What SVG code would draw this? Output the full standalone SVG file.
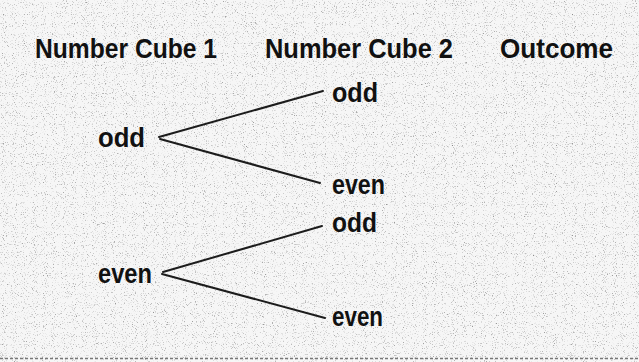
<svg xmlns="http://www.w3.org/2000/svg" width="639" height="362" viewBox="0 0 639 362">
  <defs>
    <filter id="speckle" x="0" y="0" width="100%" height="100%" filterUnits="userSpaceOnUse">
      <feTurbulence type="fractalNoise" baseFrequency="0.9" numOctaves="2" seed="7" result="t"/>
      <feColorMatrix in="t" type="matrix" values="0 0 0 0 0.25  0 0 0 0 0.25  0 0 0 0 0.25  3 0 0 0 -1.75"/>
    </filter>
    <style>
      .lbl { font-family: "Liberation Sans", Arial, sans-serif; font-weight: bold; font-size: 27px; fill: #111; }
      .edge { fill: none; stroke: #1c1c1c; stroke-width: 2; stroke-linecap: round; stroke-linejoin: round; }
    </style>
  </defs>
  <rect width="639" height="362" fill="#f6f6f6"/>
  <rect width="639" height="362" fill="#000" filter="url(#speckle)"/>
  <line x1="0" y1="358.5" x2="639" y2="358.5" stroke="#777" stroke-width="1.5" stroke-dasharray="3 2"/>

  <g id="headers">
    <text class="lbl" x="35" y="58" textLength="182" lengthAdjust="spacingAndGlyphs">Number Cube 1</text>
    <text class="lbl" x="265" y="58" textLength="188" lengthAdjust="spacingAndGlyphs">Number Cube 2</text>
    <text class="lbl" x="500" y="58" textLength="113" lengthAdjust="spacingAndGlyphs">Outcome</text>
  </g>

  <g id="connectors">
    <line class="edge" x1="159" y1="137" x2="323" y2="91"/>
    <line class="edge" x1="160" y1="139" x2="320" y2="183"/>
    <line class="edge" x1="163" y1="272" x2="322" y2="226"/>
    <line class="edge" x1="162" y1="274" x2="325" y2="318"/>
  </g>

  <g id="n-odd1"><text class="lbl" x="98" y="147" textLength="47" lengthAdjust="spacingAndGlyphs">odd</text></g>
  <g id="n-even1"><text class="lbl" x="98" y="283" textLength="54" lengthAdjust="spacingAndGlyphs">even</text></g>
  <g id="n-odd-odd"><text class="lbl" x="332" y="102" textLength="46" lengthAdjust="spacingAndGlyphs">odd</text></g>
  <g id="n-odd-even"><text class="lbl" x="332" y="194" textLength="53" lengthAdjust="spacingAndGlyphs">even</text></g>
  <g id="n-even-odd"><text class="lbl" x="332" y="232" textLength="45" lengthAdjust="spacingAndGlyphs">odd</text></g>
  <g id="n-even-even"><text class="lbl" x="332" y="326" textLength="51" lengthAdjust="spacingAndGlyphs">even</text></g>
</svg>
